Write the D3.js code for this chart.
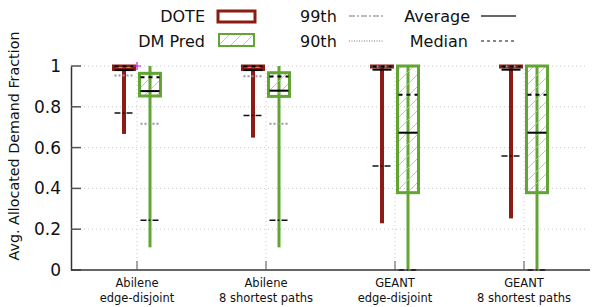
<!DOCTYPE html>
<html>
<head>
<meta charset="utf-8">
<script src="https://cdn.jsdelivr.net/npm/d3@7"></script>
<style>
  body { margin: 0; background: #fff; }
  text { font-family: "DejaVu Sans", sans-serif; fill: #111; }
</style>
</head>
<body>
<div id="chart"></div>
<script>
// categories on the x axis (two text lines each)
const categories = ["Abilene|edge-disjoint", "Abilene|8 shortest paths", "GEANT|edge-disjoint", "GEANT|8 shortest paths"];
const yTicks = [0, 0.2, 0.4, 0.6, 0.8, 1];

// DOTE stats per category
const doteMin = [0.667, 0.649, 0.229, 0.253];
const doteQ1 = [0.983, 0.983, 0.995, 0.995];
const doteQ3 = [1, 1, 1, 1];
const doteMax = [1, 1, 1, 1];
const doteMedian = [0.997, 0.997, 0.998, 0.998];
const doteMean = [0.98, 0.98, 0.982, 0.982];
const dote90 = [0.953, 0.95, 0.998, 0.998];
const dote99 = [0.77, 0.757, 0.51, 0.559];

// DM Pred stats per category
const dmMin = [0.111, 0.111, 0, 0];
const dmQ1 = [0.853, 0.851, 0.379, 0.379];
const dmQ3 = [0.964, 0.967, 1, 1];
const dmMax = [1, 1, 1, 1];
const dmMedian = [0.945, 0.948, 0.859, 0.859];
const dmMean = [0.877, 0.879, 0.673, 0.673];
const dm90 = [0.717, 0.717, 0, 0];
const dm99 = [0.244, 0.244, 0, 0];

// stray point marker seen in the figure
const outlierCat = [0];
const outlierVal = [1];

const width = 592, height = 307;
const svg = d3.select("#chart").append("svg")
    .attr("width", width)
    .attr("height", height);

const y = d3.scaleLinear().domain([0, 1]).range([270, 66]);
const x = d3.scaleBand().domain(categories).range([72.5, 588.5]).padding(0);
const cx = (i) => x(categories[i]) + x.bandwidth() / 2;

// hatch pattern for DM Pred
const defs = svg.append("defs");
defs.append("pattern")
    .attr("id", "hatch")
    .attr("patternUnits", "userSpaceOnUse")
    .attr("width", 12).attr("height", 12)
  .append("path")
    .attr("d", "M-3,3 L3,-3 M0,12 L12,0 M9,15 L15,9")
    .attr("stroke", "#9fd47a")
    .attr("stroke-width", 0.9);

// grid
svg.append("g").selectAll("line")
  .data(yTicks.filter(d => d > 0))
  .enter().append("line")
    .attr("x1", 72).attr("x2", 588)
    .attr("y1", d => y(d)).attr("y2", d => y(d))
    .attr("stroke", "#c8c8c8").attr("stroke-dasharray", "1,3");
svg.append("g").selectAll("line")
  .data(categories)
  .enter().append("line")
    .attr("x1", d => x(d) + x.bandwidth() / 2).attr("x2", d => x(d) + x.bandwidth() / 2)
    .attr("y1", y(0)).attr("y2", y(1))
    .attr("stroke", "#c8c8c8").attr("stroke-dasharray", "1,3");

// y axis
const yAxis = svg.append("g").attr("transform", "translate(71,0)")
    .call(d3.axisLeft(y).tickValues(yTicks).tickFormat(d3.format("~g")).tickSize(0).tickPadding(10));
yAxis.select(".domain").attr("stroke", "#333").attr("stroke-width", 1.5);
yAxis.selectAll("text").attr("font-size", 17);
svg.append("g").selectAll("line")
  .data(yTicks)
  .enter().append("line")
    .attr("x1", 71).attr("x2", 81)
    .attr("y1", d => y(d)).attr("y2", d => y(d))
    .attr("stroke", "#555").attr("stroke-width", 1.5);

// x axis
const xAxis = svg.append("g").attr("transform", "translate(0,270)")
    .call(d3.axisBottom(x).tickSize(0).tickFormat(""));
xAxis.select(".domain").attr("d", "M71,0H590").attr("stroke", "#333").attr("stroke-width", 1.5);
svg.append("g").selectAll("line")
  .data(categories)
  .enter().append("line")
    .attr("x1", d => x(d) + x.bandwidth() / 2).attr("x2", d => x(d) + x.bandwidth() / 2)
    .attr("y1", 270).attr("y2", 261)
    .attr("stroke", "#555").attr("stroke-width", 1);
const xl = svg.append("g").selectAll("text")
  .data(categories)
  .enter().append("text")
    .attr("x", d => x(d) + x.bandwidth() / 2)
    .attr("y", 287)
    .attr("text-anchor", "middle")
    .attr("font-size", 11.5);
xl.append("tspan").attr("x", d => x(d) + x.bandwidth() / 2).text(d => d.split("|")[0]);
xl.append("tspan").attr("x", d => x(d) + x.bandwidth() / 2).attr("dy", 15).text(d => d.split("|")[1]);

// y label
svg.append("text")
    .attr("transform", "translate(19,146) rotate(-90)")
    .attr("text-anchor", "middle")
    .attr("font-size", 14.3)
    .text("Avg. Allocated Demand Fraction");

// draw one box series
const bw = 21;
function drawSeries(off, s) {
  const g = svg.append("g");
  const idx = d3.range(categories.length);
  // whisker
  g.selectAll(".wh").data(idx).enter().append("line")
    .attr("x1", i => cx(i) + off).attr("x2", i => cx(i) + off)
    .attr("y1", i => y(s.min[i])).attr("y2", i => y(s.max[i]))
    .attr("stroke", s.color).attr("stroke-width", s.whW);
  // box
  g.selectAll(".bx").data(idx).enter().append("rect")
    .attr("x", i => cx(i) + off - bw / 2)
    .attr("width", bw)
    .attr("y", i => y(s.q3[i]))
    .attr("height", i => y(s.q1[i]) - y(s.q3[i]))
    .attr("fill", s.fill)
    .attr("stroke", s.color).attr("stroke-width", 3);
  const mark = (vals, stroke, w, dash) => {
    g.selectAll(null).data(idx).enter().append("line")
      .attr("x1", i => cx(i) + off - bw / 2 + 1).attr("x2", i => cx(i) + off + bw / 2 - 1)
      .attr("y1", i => y(vals[i])).attr("y2", i => y(vals[i]))
      .attr("stroke", stroke).attr("stroke-width", w)
      .attr("stroke-dasharray", dash);
  };
  mark(s.p90, "#999", 2, "2,2");
  mark(s.p99, "#111", 1.5, "6,2,2,2");
  mark(s.mean, "#000", 2, null);
  mark(s.median, "#000", 2, "4,4");
}

drawSeries(-13, { color: "#8c1c13", fill: "#fff", whW: 4,
  min: doteMin, q1: doteQ1, q3: doteQ3, max: doteMax,
  median: doteMedian, mean: doteMean, p90: dote90, p99: dote99 });
drawSeries(13, { color: "#62a532", fill: "url(#hatch)", whW: 3,
  min: dmMin, q1: dmQ1, q3: dmQ3, max: dmMax,
  median: dmMedian, mean: dmMean, p90: dm90, p99: dm99 });

// stray marker
svg.append("g").selectAll("path")
  .data(outlierCat)
  .enter().append("path")
    .attr("d", (c, k) => `M${cx(c) - 4},${y(outlierVal[k])}h8M${cx(c)},${y(outlierVal[k]) - 4}v8`)
    .attr("stroke", "#c020e0").attr("stroke-width", 1.2);

// legend
const leg = svg.append("g");
leg.append("text").attr("x", 205).attr("y", 22).attr("text-anchor", "end").attr("font-size", 16).text("DOTE");
leg.append("rect").attr("x", 218).attr("y", 11).attr("width", 37).attr("height", 11)
  .attr("fill", "#fff").attr("stroke", "#8c1c13").attr("stroke-width", 3);
leg.append("text").attr("x", 205).attr("y", 47).attr("text-anchor", "end").attr("font-size", 16).text("DM Pred");
leg.append("rect").attr("x", 219).attr("y", 34).attr("width", 35).attr("height", 12)
  .attr("fill", "url(#hatch)").attr("stroke", "#62a532").attr("stroke-width", 2);

const lineLegend = [
  { label: "99th", x: 300, y: 22, lx: 349, dash: "6,2,2,2", color: "#777", w: 1, anchor: "start" },
  { label: "90th", x: 300, y: 47, lx: 349, dash: "1,1.5", color: "#777", w: 1, anchor: "start" },
  { label: "Average", x: 470, y: 22, lx: 481, dash: null, color: "#333", w: 1.5, anchor: "end" },
  { label: "Median", x: 468, y: 47, lx: 481, dash: "3,3", color: "#111", w: 1.2, anchor: "end" }
];
lineLegend.forEach(d => {
  leg.append("text").attr("x", d.x).attr("y", d.y).attr("text-anchor", d.anchor).attr("font-size", 16).text(d.label);
  leg.append("line").attr("x1", d.lx).attr("x2", d.lx + 35).attr("y1", d.y - 6).attr("y2", d.y - 6)
    .attr("stroke", d.color).attr("stroke-width", d.w).attr("stroke-dasharray", d.dash);
});
</script>
</body>
</html>
